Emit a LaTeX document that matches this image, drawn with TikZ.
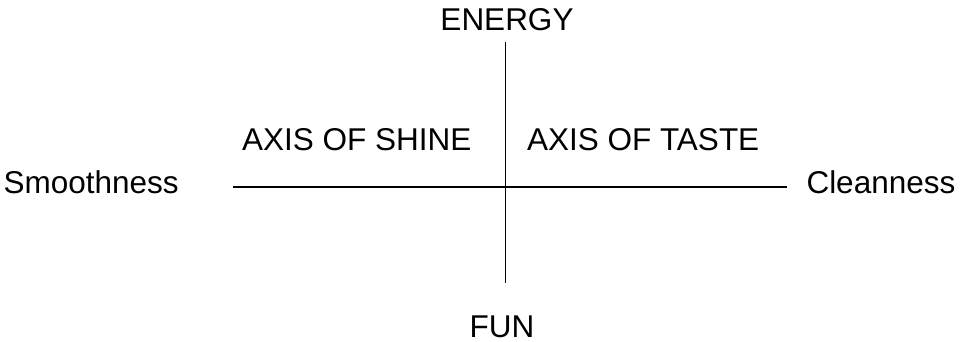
\documentclass[tikz,border=0pt]{standalone}
\usepackage{fontspec}
\setmainfont{Liberation Sans}
\begin{document}
\begin{tikzpicture}[x=1pt,y=-1pt,
  lbl/.style={inner sep=0pt,outer sep=0pt,font=\fontsize{31.5}{36}\selectfont},
  axisline/.style={line width=1.6pt,black}]
\useasboundingbox (0,0) rectangle (963,342);
\coordinate (vtop) at (505.5,42);
\coordinate (vbot) at (505.5,283);
\coordinate (hleft) at (233,187);
\coordinate (hright) at (787,187);
\draw[axisline] (vtop) -- (vbot);
\draw[axisline] (hleft) -- (hright);
\node[lbl,anchor=base] (energy) at (507,31) {ENERGY};
\node[lbl,anchor=base] (fun) at (502,337) {FUN};
\node[lbl,anchor=base west] (shine) at (242,150) {AXIS OF SHINE};
\node[lbl,anchor=base west] (taste) at (527,150) {AXIS OF TASTE};
\node[lbl,anchor=base west] (smooth) at (3.5,193.5) {Smoothness};
\node[lbl,anchor=base west] (clean) at (806.5,193.5) {Cleanness};
\end{tikzpicture}
\end{document}
